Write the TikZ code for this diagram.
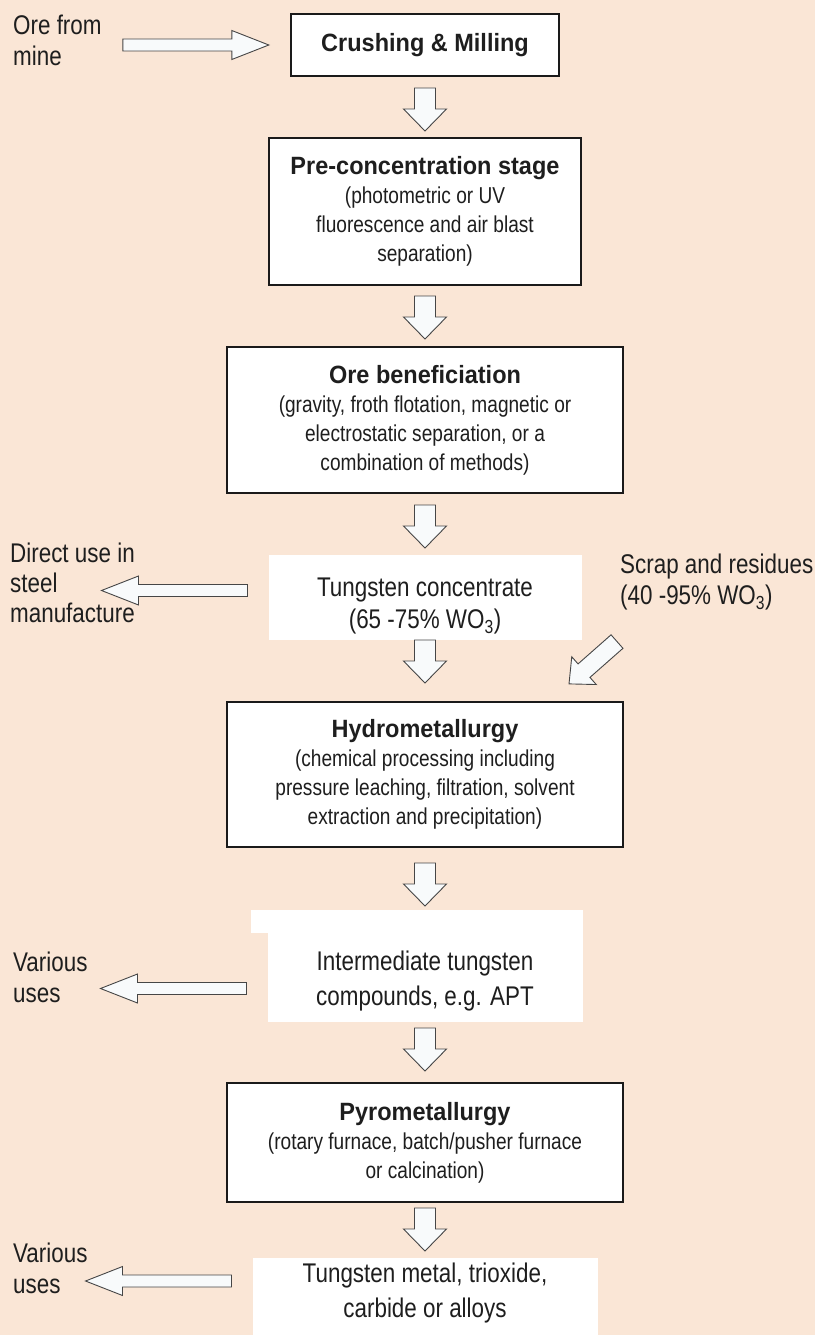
\documentclass[tikz,border=0pt]{standalone}
\usepackage{fontspec}
\setmainfont{Liberation Sans}[FakeStretch=0.83]
\newfontfamily\headfont{Liberation Sans}[FakeStretch=0.94]
\usetikzlibrary{positioning, calc}

\definecolor{bgpeach}{RGB}{250,230,214}
\definecolor{boxline}{RGB}{26,26,26}
\definecolor{arrowline}{RGB}{70,70,70}
\definecolor{arrowfill}{RGB}{248,250,251}
\definecolor{inkgray}{RGB}{30,30,30}

\newcommand{\stagetitle}[1]{{\headfont\bfseries\fontsize{25}{29}\selectfont #1}}
\newcommand{\droptext}[1]{\rule{0pt}{#1}}

\tikzset{
    ba shaft/.store in=\baShaft, ba shaft=10.5pt,
    ba barb/.store in=\baBarb, ba barb=21.5pt,
    ba head/.store in=\baHead, ba head=22pt,
    ba gap/.store in=\baGap, ba gap=0pt,
    ba len/.store in=\baLen, ba len=43pt,
    blockarrow/.style={draw=arrowline, fill=arrowfill, line width=0.9pt,
        to path={
            ($(\tikztostart)!\baGap!(\tikztotarget)$) coordinate (ba-s)
            ($(ba-s)!\baLen!(\tikztotarget)$) coordinate (ba-t)
            ($(ba-t)!\baHead!(ba-s)$) coordinate (ba-h)
            ($(ba-s)!\baShaft!90:(ba-t)$) -- ($(ba-h)!\baShaft!90:(ba-t)$)
            -- ($(ba-h)!\baBarb!90:(ba-t)$) -- (ba-t)
            -- ($(ba-h)!\baBarb!-90:(ba-t)$) -- ($(ba-h)!\baShaft!-90:(ba-t)$)
            -- ($(ba-s)!\baShaft!-90:(ba-t)$) -- cycle
        }},
}

\begin{document}
\begin{tikzpicture}[x=1pt, y=-1pt, node distance=62pt,
    stagebox/.style={draw=boxline, line width=1.8pt, fill=white, inner sep=0pt, outer sep=0pt,
        align=center, text=inkgray, font=\fontsize{23}{29}\selectfont},
    plainbox/.style={fill=white, inner sep=0pt, outer sep=0pt, align=center, text=inkgray,
        font=\fontsize{27}{35}\selectfont},
    sidelabel/.style={anchor=north west, inner sep=0pt, align=left, text=inkgray,
        font=\fontsize{27}{31}\selectfont},
    downarrow/.style={blockarrow, ba shaft=10.5pt, ba barb=21.5pt, ba head=22pt, ba len=43pt},
    sidearrow/.style={blockarrow, ba shaft=6pt, ba barb=14.5pt, ba head=37pt, ba len=146pt, ba gap=21pt},
    feedarrow/.style={blockarrow, ba shaft=9pt, ba barb=18.5pt, ba head=20pt, ba len=64pt}]

    \fill[bgpeach] (0,0) rectangle (815,1335);
    \useasboundingbox (0,0) rectangle (815,1335);

    \node[stagebox, minimum width=268pt, minimum height=62pt] (cm) at (425,45)
        {\stagetitle{Crushing \& Milling}};
    \node[stagebox, minimum width=312pt, minimum height=147pt, below=of cm] (pc)
        {\stagetitle{Pre-concentration stage}\\(photometric or UV\\fluorescence and air blast\\separation)};
    \node[stagebox, minimum width=396pt, minimum height=146pt, below=of pc] (ob)
        {\stagetitle{Ore beneficiation}\\(gravity, froth flotation, magnetic or\\electrostatic separation, or a\\combination of methods)};
    \node[plainbox, minimum width=313pt, minimum height=85pt, below=of ob,
        font=\fontsize{27}{32}\selectfont] (tc)
        {\droptext{36pt}Tungsten concentrate\\(65 -75\% WO\textsubscript{3})};
    \node[stagebox, minimum width=396pt, minimum height=145pt, below=of tc] (hy)
        {\stagetitle{Hydrometallurgy}\\(chemical processing including\\pressure leaching, filtration, solvent\\extraction and precipitation)};
    \node[plainbox, minimum width=315pt, minimum height=89pt, below=86pt of hy] (in)
        {\droptext{26pt}Intermediate tungsten\\compounds, e.g. APT};
    \fill[white] ([xshift=-17pt]in.north west) rectangle ([yshift=23pt]in.north east);
    \node[stagebox, minimum width=396pt, minimum height=119pt, below=61pt of in] (py)
        {\stagetitle{Pyrometallurgy}\\(rotary furnace, batch/pusher furnace\\or calcination)};
    \node[plainbox, minimum width=345pt, minimum height=70pt, below=56pt of py] (tm)
        {Tungsten metal, trioxide,\\carbide or alloys};
    \fill[white] (tm.south west) rectangle ([yshift=-20pt]tm.south east);

    \node[sidelabel] (ore) at (13,15) {Ore from\\mine};
    \node[sidelabel, font=\fontsize{27}{30}\selectfont] (du) at (10,543)
        {Direct use in\\steel\\manufacture};
    \node[sidelabel] (va) at (13,952) {Various\\uses};
    \node[sidelabel] (vb) at (13,1243) {Various\\uses};
    \node[sidelabel] (sc) at (620,554) {Scrap and residues\\(40 -95\% WO\textsubscript{3})};

    \coordinate (sc-tail) at ($(sc.south west)+(-3,31)$);
    \coordinate (hy-feed) at ($(hy.north east)+(-53,-19)$);

    \draw[sidearrow] (ore.east |- cm.west) to (cm.west);
    \draw[downarrow, ba gap=12pt] (cm.south) to (pc.north);
    \draw[downarrow, ba gap=11pt] (pc.south) to (ob.north);
    \draw[downarrow, ba gap=12pt] (ob.south) to (tc.north);
    \draw[sidearrow] ($(tc.west)+(0,-7)$) to ($(tc.west -| du.east)+(0,-7)$);
    \draw[downarrow] (tc.south) to (hy.north);
    \draw[feedarrow] (sc-tail) to (hy-feed);
    \draw[downarrow, ba gap=16pt] (hy.south) to (in.north);
    \draw[sidearrow] ($(in.west)+(0,11)$) to ($(in.west -| va.east)+(0,11)$);
    \draw[downarrow, ba gap=6pt] (in.south) to (py.north);
    \draw[downarrow, ba gap=6pt] (py.south) to (tm.north);
    \draw[sidearrow] ($(tm.west)+(0,-12)$) to ($(tm.west -| vb.east)+(0,-12)$);
\end{tikzpicture}
\end{document}
